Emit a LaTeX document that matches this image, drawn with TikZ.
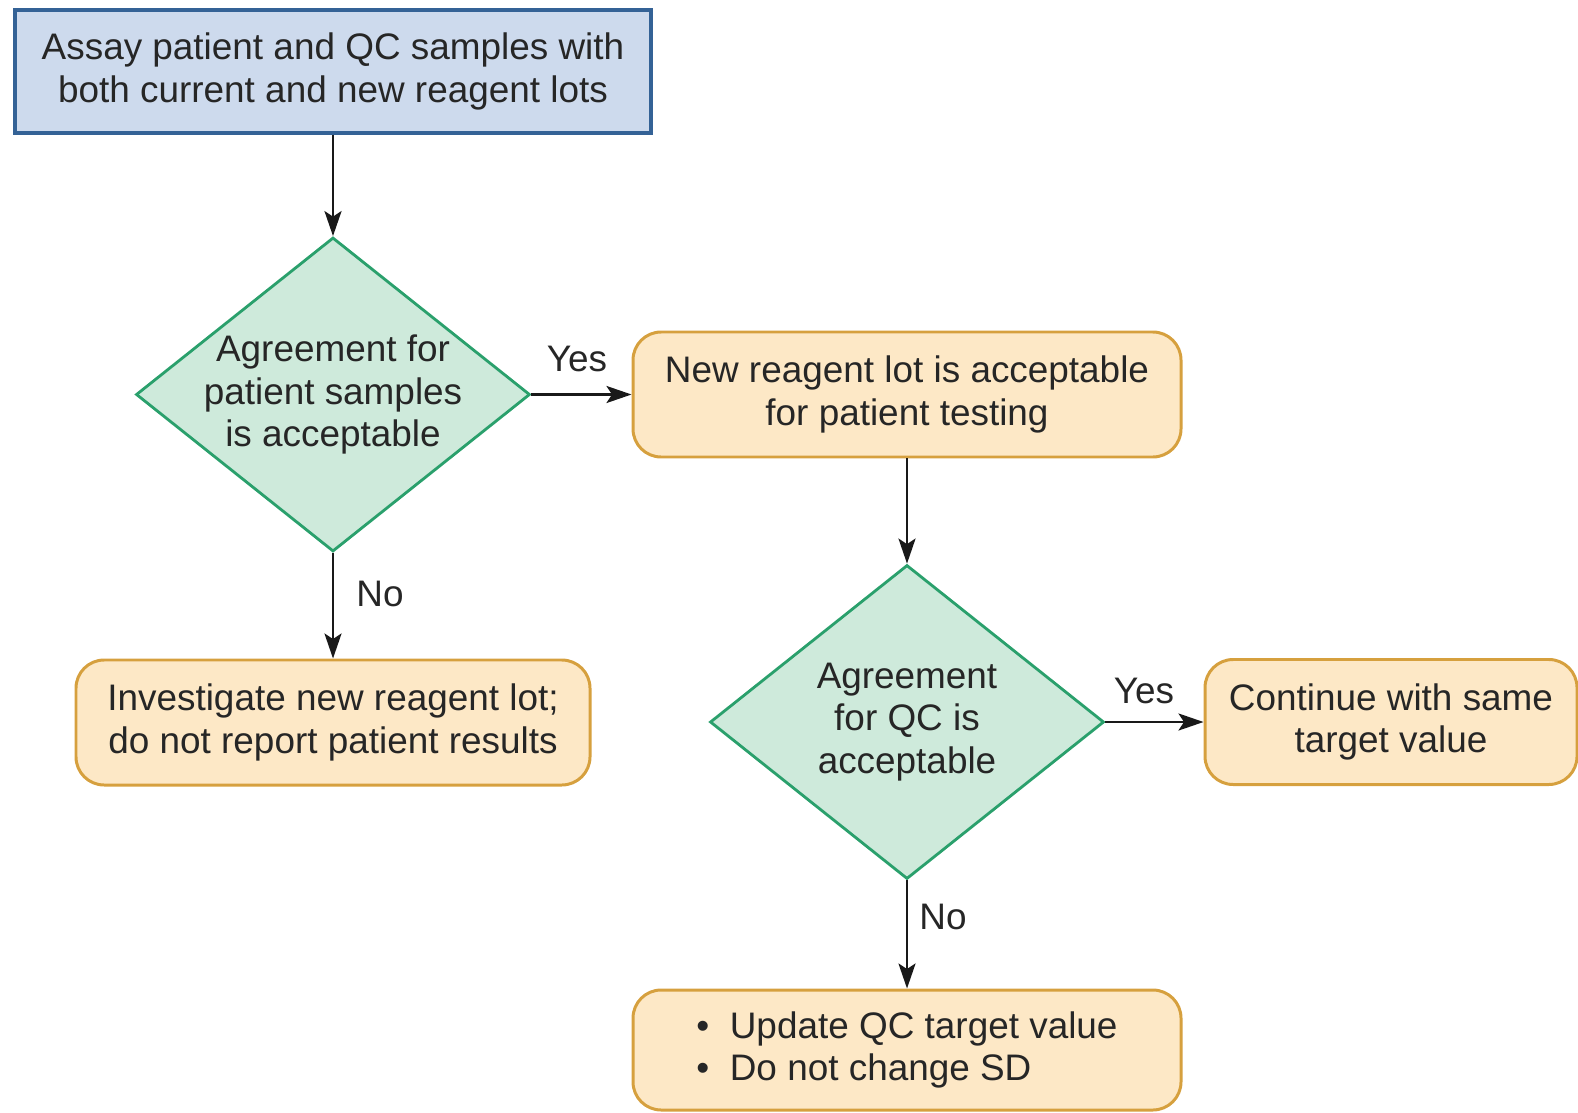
\documentclass[tikz,border=0pt]{standalone}
\usepackage{fontspec}
\setmainfont{Liberation Sans}
\usetikzlibrary{shapes.geometric, arrows.meta, positioning}
\definecolor{startfill}{RGB}{205,218,237}
\definecolor{startborder}{RGB}{52,98,150}
\definecolor{decfill}{RGB}{206,234,219}
\definecolor{decborder}{RGB}{42,160,108}
\definecolor{outfill}{RGB}{253,232,198}
\definecolor{outborder}{RGB}{214,160,62}

\begin{document}
\begin{tikzpicture}[
    >={Stealth[length=5mm, width=3.4mm, inset=1.1mm]},
    every node/.style={text=black!85, font=\fontsize{21}{24}\selectfont},
    startbox/.style={rectangle, draw=startborder, fill=startfill, line width=1.9pt, minimum width=12.72cm, minimum height=2.46cm, align=center},
    decision/.style={diamond, draw=decborder, fill=decfill, line width=1.6pt, aspect=1.26, inner sep=-4pt, minimum width=7.88cm, minimum height=6.28cm, align=center},
    outcome/.style={rectangle, rounded corners=16pt, draw=outborder, fill=outfill, line width=1.7pt, minimum height=2.5cm, align=center},
    arrow/.style={->, line width=1.5pt, black!90},
    answer/.style={inner sep=0pt}
]
\useasboundingbox (0,0) rectangle (31.56,22.24);

% Start
\node[startbox] (assay) at (6.66, 20.81) {Assay patient and QC samples with\\both current and new reagent lots};

% Patient sample check
\node[decision] (agreepat) at (6.66, 14.35) {Agreement for\\patient samples\\is acceptable};
\node[outcome, minimum width=10.96cm] (newlot) at (18.14, 14.35) {New reagent lot is acceptable\\for patient testing};
\node[outcome, minimum width=10.28cm] (investigate) at (6.66, 7.79) {Investigate new reagent lot;\\do not report patient results};

% QC check
\node[decision] (agreeqc) at (18.14, 7.80) {Agreement\\for QC is\\acceptable};
\node[outcome, minimum width=7.44cm] (continue) at (27.82, 7.80) {Continue with same\\target value};
\node[outcome, minimum width=10.96cm, minimum height=2.4cm, align=left] (update) at (18.14, 1.24) {\textbullet\ \ Update QC target value\\\textbullet\ \ Do not change SD};

% Arrows
\draw[arrow] (assay.south) -- (agreepat.north);
\draw[arrow] (agreepat.east) -- (newlot.west);
\draw[arrow] (agreepat.south) -- (investigate.north);
\draw[arrow] (newlot.south) -- (agreeqc.north);
\draw[arrow] (agreeqc.east) -- (continue.west);
\draw[arrow] (agreeqc.south) -- (update.north);

% Labels on arrows
\node[answer] (yespat) at (11.54, 15.06) {Yes};
\node[answer] (nopat) at (7.60, 10.36) {No};
\node[answer] (yesqc) at (22.88, 8.42) {Yes};
\node[answer] (noqc) at (18.86, 3.90) {No};

\end{tikzpicture}
\end{document}
